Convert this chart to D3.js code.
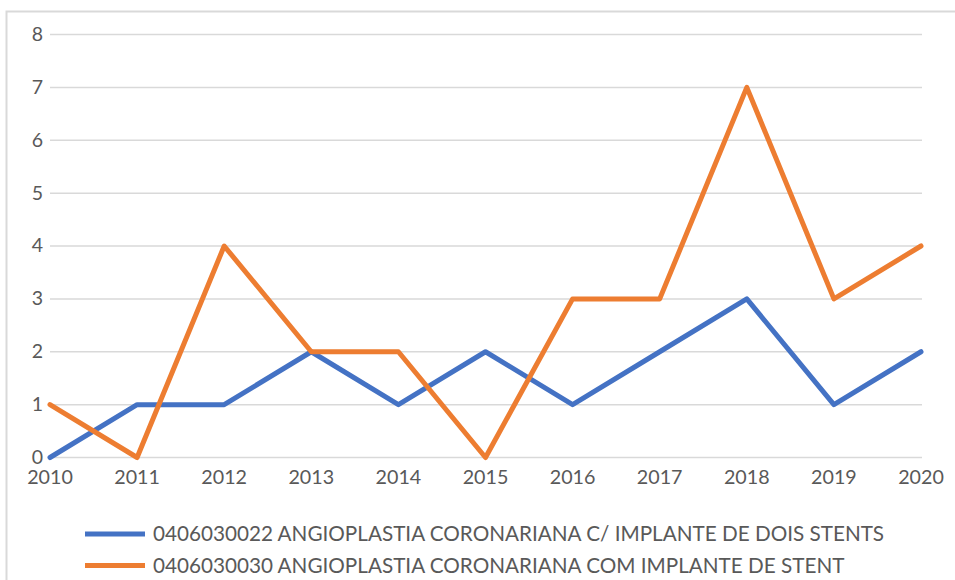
<!DOCTYPE html>
<html lang="pt">
<head>
    <meta charset="UTF-8">
    <title>Angioplastia coronariana</title>
    <script src="https://d3js.org/d3.v7.min.js"></script>
    <style>
        body { margin: 0; background: #fff; }
        #chart { width: 955px; height: 580px; }
        text { font-family: Lato, "Open Sans", sans-serif; fill: #595959; }
    </style>
</head>
<body>
    <div id="chart"></div>

    <script>
        // Data
        var years = ["2010", "2011", "2012", "2013", "2014", "2015", "2016", "2017", "2018", "2019", "2020"];
        var dualStent = [0, 1, 1, 2, 1, 2, 1, 2, 3, 1, 2];
        var singleStent = [1, 0, 4, 2, 2, 0, 3, 3, 7, 3, 4];
        var seriesNames = [
            "0406030022 ANGIOPLASTIA CORONARIANA C/ IMPLANTE DE DOIS STENTS",
            "0406030030 ANGIOPLASTIA CORONARIANA COM IMPLANTE DE STENT"
        ];
        var seriesColors = ["#4472C4", "#ED7D31"];
        var yTicks = [0, 1, 2, 3, 4, 5, 6, 7, 8];

        var width = 955, height = 580;

        var svg = d3.select("#chart")
                    .append("svg")
                    .attr("width", width)
                    .attr("height", height);

        // chart frame (runs off the right and bottom edges)
        svg.append("rect")
           .attr("x", 6.5).attr("y", 11.5)
           .attr("width", 960).attr("height", 600)
           .attr("fill", "none")
           .attr("stroke", "#d9d9d9")
           .attr("stroke-width", 2);

        var x = d3.scalePoint().domain(years).range([50, 921]);
        var y = d3.scaleLinear().domain([0, 8]).range([457.5, 34.5]);

        // gridlines
        svg.append("g")
           .selectAll("line")
           .data(yTicks)
           .enter()
           .append("line")
           .attr("x1", 50).attr("x2", 922)
           .attr("y1", function(d) { return y(d); })
           .attr("y2", function(d) { return y(d); })
           .attr("stroke", "#d9d9d9")
           .attr("stroke-width", 1.5);

        // y tick labels
        svg.append("g")
           .selectAll("text")
           .data(yTicks)
           .enter()
           .append("text")
           .attr("x", 43)
           .attr("y", function(d) { return y(d); })
           .attr("dy", "0.33em")
           .attr("text-anchor", "end")
           .style("font-size", "19.5px")
           .text(function(d) { return d; });

        // x tick labels
        svg.append("g")
           .selectAll("text")
           .data(years)
           .enter()
           .append("text")
           .attr("x", function(d) { return x(d); })
           .attr("y", 477)
           .attr("dy", "0.35em")
           .attr("text-anchor", "middle")
           .style("font-size", "19.7px")
           .text(function(d) { return d; });

        // lines
        var line = d3.line()
                     .x(function(d, i) { return x(years[i]); })
                     .y(function(d) { return y(d); });

        [dualStent, singleStent].forEach(function(values, i) {
            svg.append("path")
               .datum(values)
               .attr("d", line)
               .attr("fill", "none")
               .attr("stroke", seriesColors[i])
               .attr("stroke-width", 5)
               .attr("stroke-linejoin", "round")
               .attr("stroke-linecap", "round");
        });

        // legend
        var legend = svg.append("g")
                        .selectAll("g")
                        .data(seriesNames)
                        .enter()
                        .append("g")
                        .attr("transform", function(d, i) { return "translate(0," + (534 + i * 31.5) + ")"; });

        legend.append("line")
              .attr("x1", 85).attr("x2", 145)
              .attr("stroke", function(d, i) { return seriesColors[i]; })
              .attr("stroke-width", 5);

        legend.append("text")
              .attr("x", 153)
              .attr("dy", "0.35em")
              .style("font-size", "20.7px")
              .text(function(d) { return d; });
    </script>
</body>
</html>
